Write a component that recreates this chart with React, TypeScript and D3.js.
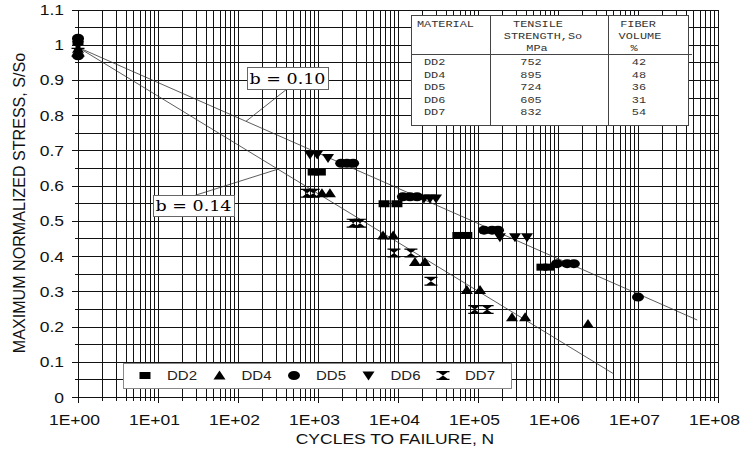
import React from "react";
import * as d3 from "d3";

// cycles to failure (N) and normalized stress (S/So)
const dd2N = [1, 870, 1070, 6700, 9700, 56000, 72500, 630000, 770000];
const dd2S = [1.01, 0.64, 0.64, 0.55, 0.55, 0.46, 0.46, 0.37, 0.37];

const dd4N = [1, 1120, 1410, 6500, 8700, 16300, 21700, 72500, 106000, 266000, 388000, 2370000];
const dd4S = [0.99, 0.58, 0.58, 0.46, 0.46, 0.385, 0.385, 0.305, 0.305, 0.228, 0.228, 0.209];

const dd5N = [1, 1, 1950, 2300, 2750, 11500, 14100, 17300, 119000, 150000, 178000, 970000, 1300000, 1580000, 1e7];
const dd5S = [1.02, 0.97, 0.665, 0.665, 0.665, 0.57, 0.57, 0.57, 0.475, 0.475, 0.475, 0.38, 0.38, 0.38, 0.285];

const dd6N = [1, 794, 977, 1334, 21100, 25100, 29900, 188000, 290000, 410000];
const dd6S = [1.0, 0.69, 0.69, 0.68, 0.565, 0.565, 0.565, 0.455, 0.455, 0.455];

const dd7N = [1, 730, 870, 2750, 3350, 8900, 14500, 25800, 91000, 130000];
const dd7S = [0.98, 0.58, 0.58, 0.495, 0.495, 0.41, 0.41, 0.33, 0.25, 0.25];

// fitted lines, S = 1 - b log N
const lineB10 = [[1, 0.994], [5.5e7, 0.22]];
const lineB14 = [[1, 0.994], [4.9e6, 0.068]];

const xTickLabels = ["1E+00", "1E+01", "1E+02", "1E+03", "1E+04", "1E+05", "1E+06", "1E+07", "1E+08"];
const yTickLabels = ["0", "0.1", "0.2", "0.3", "0.4", "0.5", "0.6", "0.7", "0.8", "0.9", "1", "1.1"];

const materials = ["DD2", "DD4", "DD5", "DD6", "DD7"];
const tensile = ["752", "895", "724", "605", "832"];
const fiberVol = ["42", "48", "36", "31", "54"];

const W = 744, H = 453;
const x = d3.scaleLog().domain([1, 1e8]).range([78, 718]);
const y = d3.scaleLinear().domain([0, 1.1]).range([397.5, 10]);

// the source picture is stretched sideways, so text is too
const SX = 1.25;

const shapes: Record<string, string> = {
  DD2: "M-5.5,-3.5H5.5V3.5H-5.5Z",
  DD4: "M0,-5L6,4L-6,4Z",
  DD6: "M0,5L6,-4L-6,-4Z",
  DD7: "M-6.5,-4.5H6.5V-3.3H4.5L0,0L4.5,3.3H6.5V4.5H-6.5V3.3H-4.5L0,0L-4.5,-3.3H-6.5Z",
};

function Marker({ kind, cx, cy }: { kind: string; cx: number; cy: number }) {
  if (kind === "DD5") return <ellipse cx={cx} cy={cy} rx={6} ry={4.5} fill="#000" />;
  return <path d={shapes[kind]} transform={`translate(${cx},${cy})`} fill="#000" />;
}

function T({ x: tx, y: ty, anchor = "start", children }: { x: number; y: number; anchor?: string; children: React.ReactNode }) {
  return (
    <text transform={`translate(${tx},${ty}) scale(${SX},1)`} textAnchor={anchor}>
      {children}
    </text>
  );
}

const series = [
  { name: "DD2", n: dd2N, s: dd2S },
  { name: "DD4", n: dd4N, s: dd4S },
  { name: "DD5", n: dd5N, s: dd5S },
  { name: "DD6", n: dd6N, s: dd6S },
  { name: "DD7", n: dd7N, s: dd7S },
];

export default function App() {
  const [x0, x1] = x.range();
  const [yb, yt] = y.range();
  const decades = d3.range(0, 9).map((p) => Math.pow(10, p));
  const minors: number[] = [];
  decades.slice(0, 8).forEach((d) => { for (let k = 2; k <= 9; k++) minors.push(d * k); });
  const hLines = d3.range(0, 23).map((i) => i * 0.05);
  const line = d3.line<number[]>().x((d) => x(d[0])).y((d) => y(d[1]));

  // leader end points sit on the fitted lines
  const b10At = (n: number) => [x(n), y(0.994 - 0.1 * Math.log10(n))];
  const b14At = (n: number) => [x(n), y(0.994 - 0.1383 * Math.log10(n))];
  const l10 = b10At(Math.pow(10, 2.1));
  const l14 = b14At(Math.pow(10, 2.5));

  const sans = "'Liberation Sans', Arial, sans-serif";
  const mono = "'Liberation Mono', 'Courier New', monospace";

  const tL = 411, tR = 688, tT = 15, tB = 125, c1 = 490, c2 = 608;

  return (
    <svg width={W} height={H} style={{ position: "absolute", left: 0, top: 0, background: "#fff" }}>
      <rect width={W} height={H} fill="#fff" />
      <g shapeRendering="crispEdges" stroke="#111" strokeWidth={1}>
        {minors.map((n, i) => (
          <line key={"m" + i} x1={x(n)} x2={x(n)} y1={yt} y2={yb + 3} />
        ))}
        {decades.map((n, i) => (
          <line key={"d" + i} x1={x(n)} x2={x(n)} y1={yt} y2={yb + 5} />
        ))}
        {hLines.map((v, i) => (
          <line key={"h" + i} x1={i % 2 === 0 ? x0 - 6 : x0 - 3} x2={x1} y1={y(v)} y2={y(v)} />
        ))}
      </g>

      <g stroke="#333" strokeWidth={0.8} fill="none">
        <path d={line(lineB10) || ""} />
        <path d={line(lineB14) || ""} />
        <line x1={287} y1={89} x2={l10[0]} y2={l10[1]} />
        <line x1={193} y1={196} x2={l14[0]} y2={l14[1]} />
      </g>

      {series.map((sr) =>
        sr.n.map((n, i) => <Marker key={sr.name + i} kind={sr.name} cx={x(n)} cy={y(sr.s[i])} />)
      )}

      {/* b annotations */}
      <g fontFamily="'DejaVu Serif', serif" fontSize={14} fill="#000">
        <rect x={247} y={67} width={81} height={22} fill="#fff" stroke="#666" shapeRendering="crispEdges" />
        <T x={287.5} y={83.5} anchor="middle">b = 0.10</T>
        <rect x={153} y={195} width={81} height={21} fill="#fff" stroke="#666" shapeRendering="crispEdges" />
        <T x={193.5} y={211} anchor="middle">b = 0.14</T>
      </g>

      {/* table */}
      <g fontFamily={mono} fontSize={9.5} fill="#333">
        <rect x={tL} y={tT} width={tR - tL} height={tB - tT} fill="#fff" stroke="#444" shapeRendering="crispEdges" />
        <g stroke="#444" shapeRendering="crispEdges">
          <line x1={c1} x2={c1} y1={tT} y2={tB} />
          <line x1={c2} x2={c2} y1={tT} y2={tB} />
          <line x1={tL} x2={tR + 4} y1={54} y2={54} />
        </g>
        <T x={417} y={27}>MATERIAL</T>
        <T x={538} y={27} anchor="middle">TENSILE</T>
        <T x={543} y={39} anchor="middle">STRENGTH,So</T>
        <T x={537} y={51} anchor="middle">MPa</T>
        <T x={638} y={27} anchor="middle">FIBER</T>
        <T x={640} y={39} anchor="middle">VOLUME</T>
        <T x={634} y={51} anchor="middle">%</T>
        {materials.map((m, i) => (
          <g key={m}>
            <T x={424} y={65 + i * 12.5}>{m}</T>
            <T x={531} y={65 + i * 12.5} anchor="middle">{tensile[i]}</T>
            <T x={639} y={65 + i * 12.5} anchor="middle">{fiberVol[i]}</T>
          </g>
        ))}
      </g>

      {/* legend */}
      <g fontFamily={sans} fontSize={12} fill="#222">
        <rect x={123} y={363} width={388} height={25} fill="#fff" stroke="#888" shapeRendering="crispEdges" />
        {materials.map((m, i) => (
          <g key={m}>
            <Marker kind={m} cx={145 + i * 74.5} cy={375.5} />
            <T x={167 + i * 74.5} y={380}>{m}</T>
          </g>
        ))}
      </g>

      {/* axes labels */}
      <g fontFamily={sans} fontSize={14} fill="#111">
        {yTickLabels.map((t, i) => (
          <T key={t} x={64} y={y(i * 0.1) + 5} anchor="end">{t}</T>
        ))}
        {xTickLabels.map((t, i) => (
          <T key={t} x={x(Math.pow(10, i)) - 3.5} y={425} anchor="middle">{t}</T>
        ))}
        <T x={395} y={444} anchor="middle">CYCLES TO FAILURE, N</T>
        <text transform="translate(25,203) rotate(-90) scale(1.15,1.2)" textAnchor="middle">
          MAXIMUM NORMALIZED STRESS, S/So
        </text>
      </g>
    </svg>
  );
}
